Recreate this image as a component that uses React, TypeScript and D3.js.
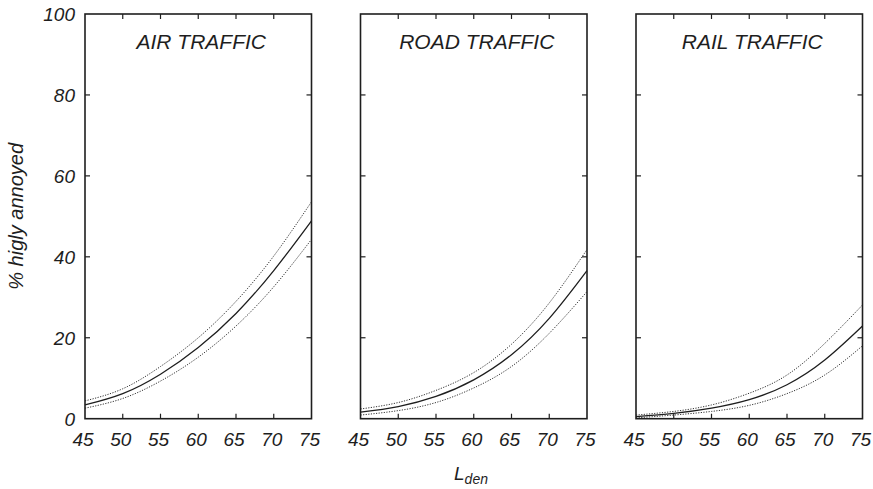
import React from "react";
import * as d3 from "d3";

const lden = [45, 50, 55, 60, 65, 70, 75];
const panelTitles = ["AIR TRAFFIC", "ROAD TRAFFIC", "RAIL TRAFFIC"];

const airMid = [3.4, 6.2, 11.0, 17.6, 26.0, 36.6, 48.9];
const airUpper = [4.4, 7.4, 12.9, 20.0, 29.0, 40.2, 53.6];
const airLower = [2.6, 5.0, 9.3, 15.2, 22.9, 32.6, 44.3];

const roadMid = [1.6, 3.0, 5.5, 9.6, 15.8, 24.8, 36.6];
const roadUpper = [2.4, 4.0, 7.0, 11.4, 18.4, 28.6, 41.8];
const roadLower = [0.9, 2.0, 4.0, 7.6, 12.9, 21.1, 31.4];

const railMid = [0.5, 1.3, 2.6, 4.7, 8.4, 14.5, 22.9];
const railUpper = [0.9, 1.8, 3.4, 6.3, 10.8, 18.6, 28.1];
const railLower = [0.2, 0.9, 1.8, 3.3, 6.2, 10.8, 18.0];

const xTicks = [45, 50, 55, 60, 65, 70, 75];
const yTicks = [0, 20, 40, 60, 80, 100];

const panels = [
  { title: panelTitles[0], mid: airMid, upper: airUpper, lower: airLower },
  { title: panelTitles[1], mid: roadMid, upper: roadUpper, lower: roadLower },
  { title: panelTitles[2], mid: railMid, upper: railUpper, lower: railLower },
];

const W = 873;
const H = 489;
const panelLefts = [85, 360.5, 636];
const panelW = 226.5;
const top = 14;
const bottom = 418.7;
const font = "'Liberation Sans', Arial, Helvetica, sans-serif";
const ink = "#1e1e1e";
const tickLen = 5;

export default function App() {
  const y = d3.scaleLinear().domain([0, 100]).range([bottom, top]);
  return (
    <svg
      width={W}
      height={H}
      style={{ position: "absolute", left: 0, top: 0, background: "#fff" }}
      fontFamily={font}
    >
      {panels.map((p, i) => {
        const x = d3
          .scaleLinear()
          .domain([45, 75])
          .range([panelLefts[i], panelLefts[i] + panelW]);
        const line = (vals: number[]) =>
          d3
            .line<number>()
            .x((_, j) => x(lden[j]))
            .y((v) => y(v))
            .curve(d3.curveNatural)(vals) || "";
        const x0 = x(45);
        const x1 = x(75);
        return (
          <g key={i}>
            <path d={line(p.upper)} fill="none" stroke="#333" strokeWidth={1} strokeDasharray="1.2,1.4" />
            <path d={line(p.lower)} fill="none" stroke="#333" strokeWidth={1} strokeDasharray="1.2,1.4" />
            <path d={line(p.mid)} fill="none" stroke={ink} strokeWidth={1.3} />
            {yTicks.slice(1, -1).map((t) => (
              <g key={"yt" + t}>
                <line x1={x0} x2={x0 + tickLen} y1={y(t)} y2={y(t)} stroke={ink} strokeWidth={1.2} />
                <line x1={x1} x2={x1 - tickLen} y1={y(t)} y2={y(t)} stroke={ink} strokeWidth={1.2} />
              </g>
            ))}
            {xTicks.slice(1, -1).map((t) => (
              <g key={"xt" + t}>
                <line x1={x(t)} x2={x(t)} y1={bottom} y2={bottom - tickLen} stroke={ink} strokeWidth={1.2} />
                <line x1={x(t)} x2={x(t)} y1={top} y2={top + tickLen} stroke={ink} strokeWidth={1.2} />
              </g>
            ))}
            <rect x={x0} y={top} width={x1 - x0} height={bottom - top} fill="none" stroke={ink} strokeWidth={1.6} />
            {xTicks.map((t) => (
              <text
                key={"xl" + t}
                x={x(t) - 2}
                y={bottom + 27}
                fontSize={19}
                fontStyle="italic"
                textAnchor="middle"
                fill={ink}
              >
                {t}
              </text>
            ))}
            <text
              x={(x0 + x1) / 2 + 3}
              y={49}
              fontSize={21}
              fontStyle="italic"
              textAnchor="middle"
              fill={ink}
            >
              {p.title}
            </text>
          </g>
        );
      })}
      {yTicks.map((t) => (
        <text
          key={"yl" + t}
          x={75}
          y={y(t) + 7}
          fontSize={19}
          fontStyle="italic"
          textAnchor="end"
          fill={ink}
        >
          {t}
        </text>
      ))}
      <text
        transform={`translate(23,${(top + bottom) / 2}) rotate(-90)`}
        fontSize={20}
        fontStyle="italic"
        textAnchor="middle"
        fill={ink}
      >
        % higly annoyed
      </text>
      <text x={471} y={480} fontSize={19} fontStyle="italic" textAnchor="middle" fill={ink}>
        L
        <tspan fontSize={14} dy={4}>
          den
        </tspan>
      </text>
    </svg>
  );
}
